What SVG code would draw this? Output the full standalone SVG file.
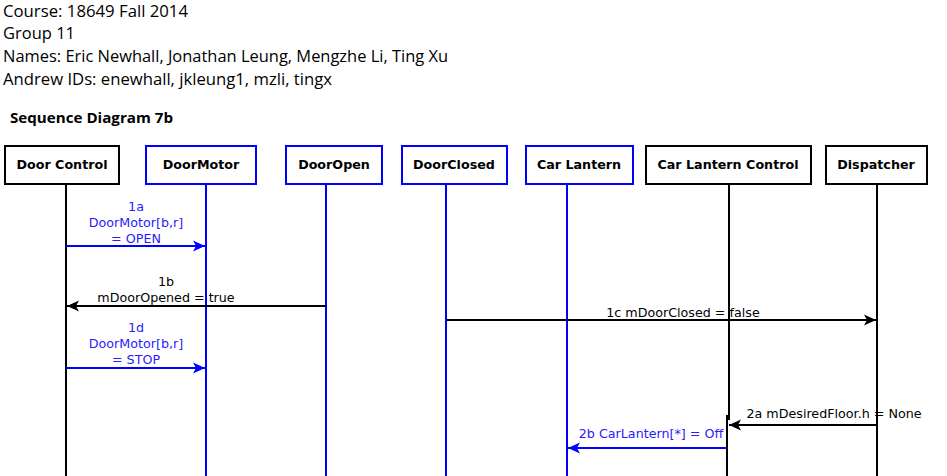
<svg xmlns="http://www.w3.org/2000/svg" width="947" height="476" viewBox="0 0 947 476">
<style>
.hdr{font-family:"Open Sans","Liberation Sans",sans-serif;font-size:16px;fill:#000}
.title{font-family:"Open Sans","Liberation Sans",sans-serif;font-size:14px;font-weight:bold;fill:#000}
.box{fill:#fff;stroke-width:2}
.bk{stroke:#000}
.bl{stroke:#0000ff}
.lbl{font-family:"DejaVu Sans",sans-serif;font-size:12.7px;font-weight:bold;fill:#000;text-anchor:middle}
.life{stroke-width:2;fill:none}
.msg{font-family:"DejaVu Sans",sans-serif;font-size:12.7px}
.mb{fill:#2a1aff}
.mk{fill:#000}
.ab{stroke:#0000ff;stroke-width:2;fill:none}
.ak{stroke:#000;stroke-width:2;fill:none}
</style>
<defs>
<marker id="hk" markerUnits="userSpaceOnUse" markerWidth="14" markerHeight="12" refX="12" refY="6" orient="auto">
<path d="M12,6 L0,0.5 L3,6 L0,11.5 Z" fill="#000"/>
</marker>
<marker id="hb" markerUnits="userSpaceOnUse" markerWidth="14" markerHeight="12" refX="12" refY="6" orient="auto">
<path d="M12,6 L0,0.5 L3,6 L0,11.5 Z" fill="#0000ff"/>
</marker>
</defs>
<rect width="947" height="476" fill="#fff"/>
<g id="header">
<text class="hdr" x="3" y="17" textLength="185" lengthAdjust="spacingAndGlyphs">Course: 18649 Fall 2014</text>
<text class="hdr" x="3" y="39" textLength="72" lengthAdjust="spacingAndGlyphs">Group 11</text>
<text class="hdr" x="3" y="62" textLength="445" lengthAdjust="spacingAndGlyphs">Names: Eric Newhall, Jonathan Leung, Mengzhe Li, Ting Xu</text>
<text class="hdr" x="3" y="85" textLength="329" lengthAdjust="spacingAndGlyphs">Andrew IDs: enewhall, jkleung1, mzli, tingx</text>
<text class="title" x="10" y="123" textLength="163" lengthAdjust="spacingAndGlyphs">Sequence Diagram 7b</text>
</g>
<g id="doorcontrol">
<rect class="box bk" x="5" y="146" width="114" height="38"/>
<text class="lbl" x="62" y="169">Door Control</text>
<line class="life bk" x1="66" y1="185" x2="66" y2="476"/>
</g>
<g id="doormotor">
<rect class="box bl" x="146" y="146" width="110" height="38"/>
<text class="lbl" x="201" y="169">DoorMotor</text>
<line class="life bl" x1="206" y1="185" x2="206" y2="476"/>
</g>
<g id="dooropen">
<rect class="box bl" x="286" y="146" width="96" height="38"/>
<text class="lbl" x="334" y="169">DoorOpen</text>
<line class="life bl" x1="326" y1="185" x2="326" y2="476"/>
</g>
<g id="doorclosed">
<rect class="box bl" x="402" y="146" width="105" height="38"/>
<text class="lbl" x="454" y="169">DoorClosed</text>
<line class="life bl" x1="446" y1="185" x2="446" y2="476"/>
</g>
<g id="carlantern">
<rect class="box bl" x="526" y="146" width="107" height="38"/>
<text class="lbl" x="579" y="169">Car Lantern</text>
<line class="life bl" x1="567" y1="185" x2="567" y2="476"/>
</g>
<g id="carlanterncontrol">
<rect class="box bk" x="646" y="146" width="165" height="38"/>
<text class="lbl" x="728" y="169">Car Lantern Control</text>
<line class="life bk" x1="729" y1="185" x2="729" y2="420"/>
<line class="life bk" x1="727" y1="415" x2="727" y2="476"/>
</g>
<g id="dispatcher">
<rect class="box bk" x="826" y="146" width="101" height="38"/>
<text class="lbl" x="876" y="169">Dispatcher</text>
<line class="life bk" x1="877" y1="185" x2="877" y2="476"/>
</g>
<g id="connectors">
<line class="ab" x1="66" y1="246" x2="205" y2="246" marker-end="url(#hb)"/>
<text class="msg mb" text-anchor="middle" x="136" y="211">1a</text>
<text class="msg mb" text-anchor="middle" x="136" y="227">DoorMotor[b,r]</text>
<text class="msg mb" text-anchor="middle" x="136" y="243">= OPEN</text>

<line class="ak" x1="326" y1="306" x2="67" y2="306" marker-end="url(#hk)"/>
<text class="msg mk" text-anchor="middle" x="166" y="286">1b</text>
<text class="msg mk" text-anchor="middle" x="166" y="302">mDoorOpened = true</text>

<line class="ak" x1="446" y1="320" x2="876" y2="320" marker-end="url(#hk)"/>
<text class="msg mk" text-anchor="middle" x="683" y="317">1c mDoorClosed = false</text>

<line class="ab" x1="66" y1="368" x2="205" y2="368" marker-end="url(#hb)"/>
<text class="msg mb" text-anchor="middle" x="136" y="332">1d</text>
<text class="msg mb" text-anchor="middle" x="136" y="348">DoorMotor[b,r]</text>
<text class="msg mb" text-anchor="middle" x="136" y="364">= STOP</text>

<line class="ak" x1="876" y1="425" x2="729" y2="425" marker-end="url(#hk)"/>
<text class="msg mk" text-anchor="middle" x="834" y="418">2a mDesiredFloor.h = None</text>

<line class="ab" x1="726" y1="448" x2="568" y2="448" marker-end="url(#hb)"/>
<text class="msg mb" text-anchor="middle" x="651" y="438">2b CarLantern[*] = Off</text>
</g>
</svg>
